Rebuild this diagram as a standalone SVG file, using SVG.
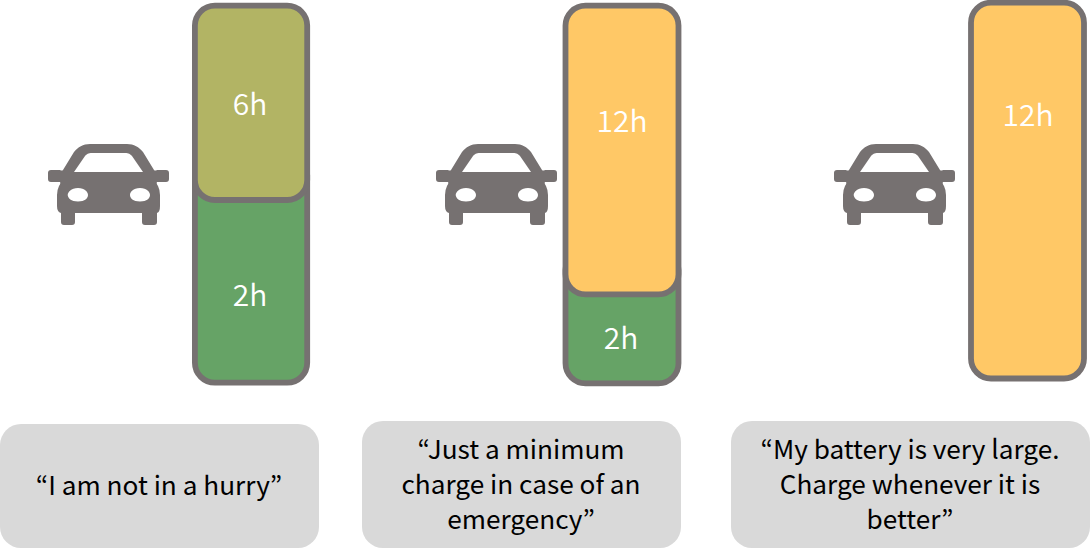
<svg xmlns="http://www.w3.org/2000/svg" width="1090" height="555" viewBox="0 0 1090 555">
<style>
text{font-family:"Noto Sans CJK KR","Noto Sans CJK SC","Noto Sans",sans-serif;text-anchor:middle}
.w{fill:#fff;font-size:30px;font-weight:350}
.q{fill:#000;font-size:26.200px}
.b{fill:#d9d9d9}
.s{stroke:#767171;stroke-width:5.800}
.o{fill:#b2b464}
.g{fill:#66a366}
.y{fill:#ffc866}
</style>
<defs>
<g id="car">
<path fill="#767171" fill-rule="evenodd" d="M90 144H127C134 144 139 147 143 152L154 170Q155 171 157 170H166Q169 170 169 173V179Q169 182 166 182H157Q156 183 158 186Q160 190 160 195V206Q160 212 157 213V222Q157 225 154 225H145Q142 225 142 222V213H75V222Q75 225 72 225H64Q61 225 61 222V213Q57 212 57 206V195Q57 190 59 186Q61 183 60 182H51Q48 182 48 179V173Q48 170 51 170H60Q62 171 63 170L74 152C78 147 83 144 90 144ZM92 153C88 153 87 154 85 156L74 172H143L132 156C130 154 129 153 125 153ZM78 188C71 188 68 192 67.700 195C68 198 71 201.500 78 201.500C85 201.500 88 198 88 195C88 192 85 188 78 188ZM140 188C133 188 130 192 130 195C130 198 133 201.500 140 201.500C147 201.500 150 198 150 195C150 192 147 188 140 188Z"/>
</g>
</defs>
<g id="car1"><use href="#car"/></g>
<g id="car2"><use href="#car" x="388"/></g>
<g id="car3"><use href="#car" x="786"/></g>
<g id="bar1">
<rect class="g s" x="194.900" y="155" width="112.300" height="227.700" rx="20"/>
<rect class="o s" x="194.900" y="5.600" width="112.300" height="194.400" rx="20"/>
<text class="w" x="250" y="115">6h</text>
<text class="w" x="250" y="306">2h</text>
</g>
<g id="bar2">
<rect class="g s" x="565.500" y="250" width="113" height="133.300" rx="20"/>
<rect class="y s" x="565.500" y="5.600" width="113" height="288.700" rx="20"/>
<text class="w" x="622" y="132">12h</text>
<text class="w" x="621" y="349">2h</text>
</g>
<g id="bar3">
<rect class="y s" x="971" y="2.700" width="113" height="375.800" rx="20"/>
<text class="w" x="1028" y="126">12h</text>
</g>
<g id="quote1">
<rect class="b" x="0" y="424" width="319" height="124" rx="21"/>
<text class="q" x="159" y="495">“I am not in a hurry”</text>
</g>
<g id="quote2">
<rect class="b" x="362" y="421" width="319" height="127" rx="21"/>
<text class="q" x="521" y="459">“Just a minimum</text>
<text class="q" x="521" y="494">charge in case of an</text>
<text class="q" x="521" y="529">emergency”</text>
</g>
<g id="quote3">
<rect class="b" x="731" y="421" width="359" height="127" rx="21"/>
<text class="q" x="910" y="459">“My battery is very large.</text>
<text class="q" x="910" y="494">Charge whenever it is</text>
<text class="q" x="910" y="529">better”</text>
</g>
</svg>
